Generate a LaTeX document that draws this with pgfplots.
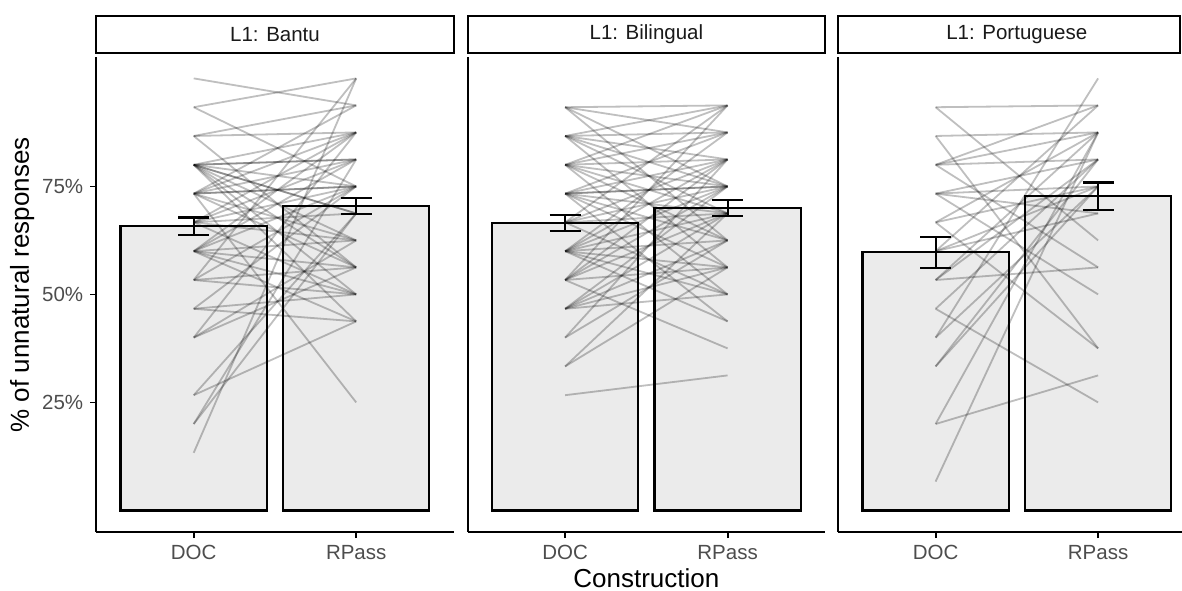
\documentclass[border=0pt]{standalone}
\usepackage{fontspec}
\setmainfont{Liberation Sans}
\usepackage{pgfplots}
\pgfplotsset{compat=1.18}
\definecolor{barfill}{HTML}{EBEBEB}
\definecolor{gray30}{HTML}{4D4D4D}
\definecolor{gray10}{HTML}{1A1A1A}
\newcommand{\smallfont}{\fontsize{10.25}{12}\selectfont}
\newcommand{\titlefont}{\fontsize{13}{15}\selectfont}
\pgfplotsset{
  panel/.style={
    scale only axis, width=178.75pt, height=237.6pt,
    anchor=south west,
    xmin=0.4, xmax=2.6, ymin=-5, ymax=105,
    axis x line*=bottom, axis y line*=left,
    axis line style={line width=1pt, black},
    xtick={1,2}, xticklabels={DOC,RPass},
    tick align=outside, major tick length=3pt,
    tick style={line width=0.9pt, black},
    tick label style={font=\smallfont, text=gray30},
    /pgf/number format/assume math mode=true,
  },
  ind/.style={black, opacity=0.25, line width=0.9pt, mark=none, forget plot},
  bars/.style={ybar, bar width=0.9, fill=barfill, draw=black, line width=1.1pt, forget plot},
  eb/.style={black, line width=1.1pt, mark=none, forget plot},
}
\begin{document}
\begin{tikzpicture}
\useasboundingbox (0,0) rectangle (591pt,295pt);
% ---------------- Panel 1: Bantu ----------------
\begin{axis}[panel, at={(48.1pt,29pt)},
  ytick={25,50,75}, yticklabels={25\%,50\%,75\%},
  ylabel={\% of unnatural responses},
  ylabel style={font=\titlefont, at={(axis description cs:-0.207,0.52)}, anchor=center}]
\addplot[bars] coordinates {(1,65.8) (2,70.4)};
\addplot[ind] coordinates {(1,100) (2,93.75)};
\addplot[ind] coordinates {(1,93.33) (2,100)};
\addplot[ind] coordinates {(1,93.33) (2,75)};
\addplot[ind] coordinates {(1,86.67) (2,93.75)};
\addplot[ind] coordinates {(1,86.67) (2,87.5)};
\addplot[ind] coordinates {(1,86.67) (2,56.25)};
\addplot[ind] coordinates {(1,80) (2,87.5)};
\addplot[ind] coordinates {(1,80) (2,81.25)};
\addplot[ind] coordinates {(1,80) (2,81.25)};
\addplot[ind] coordinates {(1,80) (2,75)};
\addplot[ind] coordinates {(1,80) (2,62.5)};
\addplot[ind] coordinates {(1,80) (2,56.25)};
\addplot[ind] coordinates {(1,80) (2,50)};
\addplot[ind] coordinates {(1,80) (2,68.75)};
\addplot[ind] coordinates {(1,73.33) (2,93.75)};
\addplot[ind] coordinates {(1,73.33) (2,87.5)};
\addplot[ind] coordinates {(1,73.33) (2,81.25)};
\addplot[ind] coordinates {(1,73.33) (2,75)};
\addplot[ind] coordinates {(1,73.33) (2,75)};
\addplot[ind] coordinates {(1,73.33) (2,62.5)};
\addplot[ind] coordinates {(1,73.33) (2,56.25)};
\addplot[ind] coordinates {(1,73.33) (2,25)};
\addplot[ind] coordinates {(1,66.67) (2,81.25)};
\addplot[ind] coordinates {(1,66.67) (2,75)};
\addplot[ind] coordinates {(1,66.67) (2,68.75)};
\addplot[ind] coordinates {(1,66.67) (2,50)};
\addplot[ind] coordinates {(1,66.67) (2,62.5)};
\addplot[ind] coordinates {(1,60) (2,87.5)};
\addplot[ind] coordinates {(1,60) (2,81.25)};
\addplot[ind] coordinates {(1,60) (2,75)};
\addplot[ind] coordinates {(1,60) (2,62.5)};
\addplot[ind] coordinates {(1,60) (2,56.25)};
\addplot[ind] coordinates {(1,60) (2,50)};
\addplot[ind] coordinates {(1,60) (2,43.75)};
\addplot[ind] coordinates {(1,53.33) (2,75)};
\addplot[ind] coordinates {(1,53.33) (2,56.25)};
\addplot[ind] coordinates {(1,53.33) (2,50)};
\addplot[ind] coordinates {(1,53.33) (2,100)};
\addplot[ind] coordinates {(1,46.67) (2,75)};
\addplot[ind] coordinates {(1,46.67) (2,50)};
\addplot[ind] coordinates {(1,46.67) (2,43.75)};
\addplot[ind] coordinates {(1,40) (2,62.5)};
\addplot[ind] coordinates {(1,40) (2,56.25)};
\addplot[ind] coordinates {(1,40) (2,87.5)};
\addplot[ind] coordinates {(1,26.67) (2,68.75)};
\addplot[ind] coordinates {(1,26.67) (2,43.75)};
\addplot[ind] coordinates {(1,20) (2,68.75)};
\addplot[ind] coordinates {(1,20) (2,81.25)};
\addplot[ind] coordinates {(1,13.33) (2,100)};
\addplot[ind] coordinates {(1,80) (2,68.75)};
\addplot[ind] coordinates {(1,66.67) (2,87.5)};
\addplot[ind] coordinates {(1,80) (2,43.75)};
% error bars
\addplot[eb] coordinates {(1,63.7) (1,67.8)};
\addplot[eb] coordinates {(0.905,63.7) (1.095,63.7)};
\addplot[eb] coordinates {(0.905,67.8) (1.095,67.8)};
\addplot[eb] coordinates {(2,68.6) (2,72.3)};
\addplot[eb] coordinates {(1.905,68.6) (2.095,68.6)};
\addplot[eb] coordinates {(1.905,72.3) (2.095,72.3)};
\end{axis}
% ---------------- Panel 2: Bilingual ----------------
\begin{axis}[panel, at={(233.8pt,29pt)}, ytick=\empty,
  xlabel={Construction},
  xlabel style={font=\titlefont, text=black, at={(axis description cs:0.5,-0.097)}, anchor=center}]
\addplot[bars] coordinates {(1,66.6) (2,70.0)};
\addplot[ind] coordinates {(1,93.33) (2,93.75)};
\addplot[ind] coordinates {(1,93.33) (2,87.5)};
\addplot[ind] coordinates {(1,93.33) (2,62.5)};
\addplot[ind] coordinates {(1,93.33) (2,75)};
\addplot[ind] coordinates {(1,86.67) (2,93.75)};
\addplot[ind] coordinates {(1,86.67) (2,87.5)};
\addplot[ind] coordinates {(1,86.67) (2,81.25)};
\addplot[ind] coordinates {(1,86.67) (2,56.25)};
\addplot[ind] coordinates {(1,86.67) (2,68.75)};
\addplot[ind] coordinates {(1,80) (2,93.75)};
\addplot[ind] coordinates {(1,80) (2,81.25)};
\addplot[ind] coordinates {(1,80) (2,75)};
\addplot[ind] coordinates {(1,80) (2,62.5)};
\addplot[ind] coordinates {(1,80) (2,50)};
\addplot[ind] coordinates {(1,80) (2,68.75)};
\addplot[ind] coordinates {(1,73.33) (2,87.5)};
\addplot[ind] coordinates {(1,73.33) (2,81.25)};
\addplot[ind] coordinates {(1,73.33) (2,75)};
\addplot[ind] coordinates {(1,73.33) (2,75)};
\addplot[ind] coordinates {(1,73.33) (2,56.25)};
\addplot[ind] coordinates {(1,73.33) (2,43.75)};
\addplot[ind] coordinates {(1,73.33) (2,62.5)};
\addplot[ind] coordinates {(1,66.67) (2,93.75)};
\addplot[ind] coordinates {(1,66.67) (2,75)};
\addplot[ind] coordinates {(1,66.67) (2,68.75)};
\addplot[ind] coordinates {(1,66.67) (2,50)};
\addplot[ind] coordinates {(1,60) (2,81.25)};
\addplot[ind] coordinates {(1,60) (2,75)};
\addplot[ind] coordinates {(1,60) (2,62.5)};
\addplot[ind] coordinates {(1,60) (2,56.25)};
\addplot[ind] coordinates {(1,60) (2,50)};
\addplot[ind] coordinates {(1,60) (2,68.75)};
\addplot[ind] coordinates {(1,60) (2,43.75)};
\addplot[ind] coordinates {(1,53.33) (2,81.25)};
\addplot[ind] coordinates {(1,53.33) (2,75)};
\addplot[ind] coordinates {(1,53.33) (2,37.5)};
\addplot[ind] coordinates {(1,53.33) (2,68.75)};
\addplot[ind] coordinates {(1,53.33) (2,56.25)};
\addplot[ind] coordinates {(1,53.33) (2,93.75)};
\addplot[ind] coordinates {(1,46.67) (2,68.75)};
\addplot[ind] coordinates {(1,46.67) (2,62.5)};
\addplot[ind] coordinates {(1,46.67) (2,56.25)};
\addplot[ind] coordinates {(1,46.67) (2,75)};
\addplot[ind] coordinates {(1,46.67) (2,50)};
\addplot[ind] coordinates {(1,40) (2,62.5)};
\addplot[ind] coordinates {(1,40) (2,81.25)};
\addplot[ind] coordinates {(1,33.33) (2,68.75)};
\addplot[ind] coordinates {(1,33.33) (2,56.25)};
\addplot[ind] coordinates {(1,26.67) (2,31.25)};
\addplot[ind] coordinates {(1,66.67) (2,81.25)};
\addplot[ind] coordinates {(1,80) (2,87.5)};
\addplot[ind] coordinates {(1,73.33) (2,68.75)};
\addplot[ind] coordinates {(1,86.67) (2,75)};
\addplot[ind] coordinates {(1,60) (2,87.5)};
% error bars
\addplot[eb] coordinates {(1,64.7) (1,68.4)};
\addplot[eb] coordinates {(0.905,64.7) (1.095,64.7)};
\addplot[eb] coordinates {(0.905,68.4) (1.095,68.4)};
\addplot[eb] coordinates {(2,68.1) (2,71.8)};
\addplot[eb] coordinates {(1.905,68.1) (2.095,68.1)};
\addplot[eb] coordinates {(1.905,71.8) (2.095,71.8)};
\end{axis}
% ---------------- Panel 3: Portuguese ----------------
\begin{axis}[panel, at={(419.05pt,29pt)}, ytick=\empty]
\addplot[bars] coordinates {(1,59.8) (2,72.8)};
\addplot[ind] coordinates {(1,93.33) (2,93.75)};
\addplot[ind] coordinates {(1,93.33) (2,62.5)};
\addplot[ind] coordinates {(1,86.67) (2,87.5)};
\addplot[ind] coordinates {(1,86.67) (2,37.5)};
\addplot[ind] coordinates {(1,80) (2,81.25)};
\addplot[ind] coordinates {(1,80) (2,93.75)};
\addplot[ind] coordinates {(1,80) (2,87.5)};
\addplot[ind] coordinates {(1,80) (2,56.25)};
\addplot[ind] coordinates {(1,73.33) (2,81.25)};
\addplot[ind] coordinates {(1,73.33) (2,68.75)};
\addplot[ind] coordinates {(1,73.33) (2,75)};
\addplot[ind] coordinates {(1,73.33) (2,50)};
\addplot[ind] coordinates {(1,66.67) (2,87.5)};
\addplot[ind] coordinates {(1,66.67) (2,75)};
\addplot[ind] coordinates {(1,60) (2,93.75)};
\addplot[ind] coordinates {(1,60) (2,68.75)};
\addplot[ind] coordinates {(1,53.33) (2,81.25)};
\addplot[ind] coordinates {(1,53.33) (2,56.25)};
\addplot[ind] coordinates {(1,53.33) (2,87.5)};
\addplot[ind] coordinates {(1,46.67) (2,25)};
\addplot[ind] coordinates {(1,46.67) (2,81.25)};
\addplot[ind] coordinates {(1,40) (2,100)};
\addplot[ind] coordinates {(1,40) (2,75)};
\addplot[ind] coordinates {(1,33.33) (2,75)};
\addplot[ind] coordinates {(1,33.33) (2,81.25)};
\addplot[ind] coordinates {(1,20) (2,31.25)};
\addplot[ind] coordinates {(1,20) (2,87.5)};
\addplot[ind] coordinates {(1,6.67) (2,87.5)};
\addplot[ind] coordinates {(1,60) (2,75)};
\addplot[ind] coordinates {(1,66.67) (2,37.5)};
% error bars
\addplot[eb] coordinates {(1,56.2) (1,63.3)};
\addplot[eb] coordinates {(0.905,56.2) (1.095,56.2)};
\addplot[eb] coordinates {(0.905,63.3) (1.095,63.3)};
\addplot[eb] coordinates {(2,69.5) (2,75.9)};
\addplot[eb] coordinates {(1.905,69.5) (2.095,69.5)};
\addplot[eb] coordinates {(1.905,75.9) (2.095,75.9)};
\end{axis}
% ---------------- Strips ----------------
\begin{scope}[line width=1pt]
\draw[fill=white] (48.1pt,268.5pt) rectangle (226.85pt,287pt);
\node[font=\smallfont, text=gray10] at (137.5pt,277.75pt) {L1: Bantu};
\draw[fill=white] (233.8pt,268.5pt) rectangle (412.55pt,287pt);
\node[font=\smallfont, text=gray10] at (323.2pt,277.75pt) {L1: Bilingual};
\draw[fill=white] (419.05pt,268.5pt) rectangle (590pt,287pt);
\node[font=\smallfont, text=gray10] at (508.4pt,277.75pt) {L1: Portuguese};
\end{scope}
\end{tikzpicture}
\end{document}
